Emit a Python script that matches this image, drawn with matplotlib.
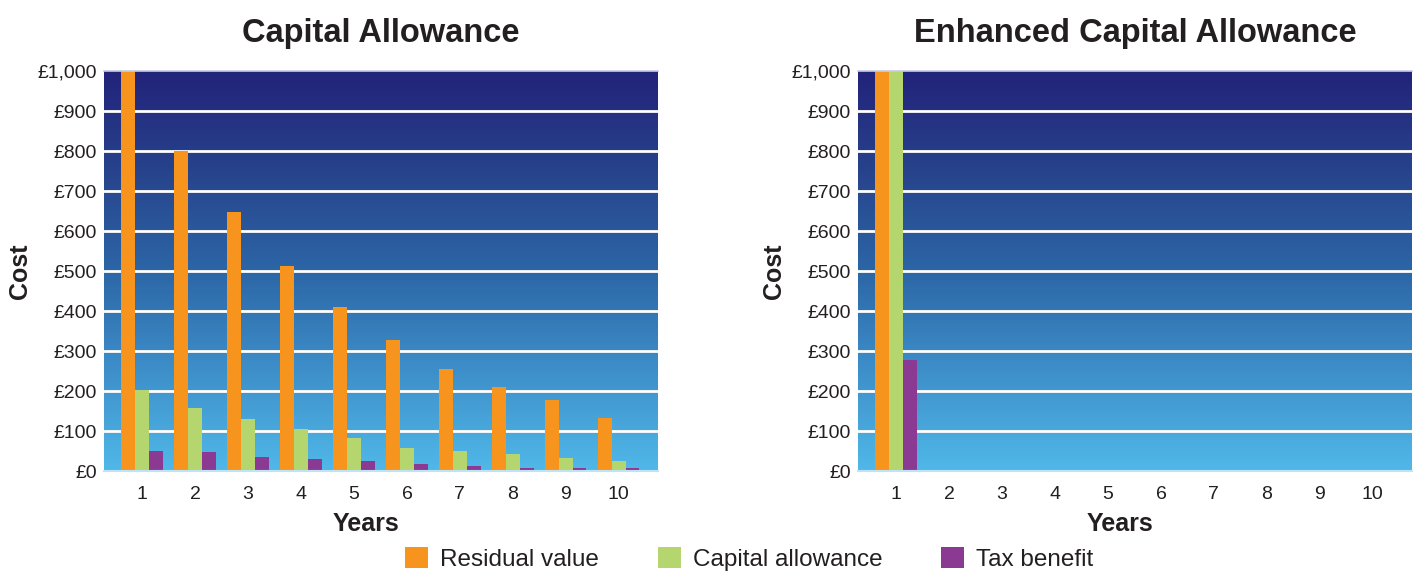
import matplotlib
matplotlib.use("Agg")
import matplotlib.pyplot as plt
import numpy as np
from matplotlib.colors import LinearSegmentedColormap
from matplotlib.patches import Patch
from matplotlib.ticker import FuncFormatter

plt.rcParams['font.family'] = ['Liberation Sans', 'DejaVu Sans']

years = [1, 2, 3, 4, 5, 6, 7, 8, 9, 10]
series_names = ["Residual value", "Capital allowance", "Tax benefit"]

ca_residual = [1000, 800, 647, 513, 411, 327, 254, 209, 177, 133]
ca_allowance = [202, 157, 129, 104, 82, 57, 49, 42, 32, 24]
ca_tax = [49, 47, 34, 29, 24, 17, 12, 7, 7, 7]

eca_residual = [1000, 0, 0, 0, 0, 0, 0, 0, 0, 0]
eca_allowance = [1000, 0, 0, 0, 0, 0, 0, 0, 0, 0]
eca_tax = [278, 0, 0, 0, 0, 0, 0, 0, 0, 0]

titles = ["Capital Allowance", "Enhanced Capital Allowance"]
yticks = [0, 100, 200, 300, 400, 500, 600, 700, 800, 900, 1000]

colors = ["#F7941D", "#B5D56E", "#8B3A94"]
bg_cmap = LinearSegmentedColormap.from_list(
    "bg", [(0.0, "#50B8E8"), (0.3, "#3A87C3"), (0.5, "#2C66A6"),
           (0.75, "#27438C"), (1.0, "#22237A")])

fig = plt.figure(figsize=(14.19, 5.72), dpi=100)
axes = [fig.add_axes([104/1419, 101/572, 554/1419, 400/572]),
        fig.add_axes([858/1419, 101/572, 554/1419, 400/572])]

data = [(ca_residual, ca_allowance, ca_tax), (eca_residual, eca_allowance, eca_tax)]
x = np.array(years, dtype=float)
w = 0.26
offsets = [-w, 0, w]
text_col = "#231f20"

for ax, title, ds in zip(axes, titles, data):
    grad = np.linspace(0, 1, 256).reshape(-1, 1)
    ax.imshow(grad, aspect="auto", cmap=bg_cmap, origin="lower",
              extent=[0, 1, 0, 1], transform=ax.transAxes, zorder=0)
    for yv in yticks[1:-1]:
        ax.axhline(yv, color="white", lw=2, zorder=1)
    for vals, off, c in zip(ds, offsets, colors):
        ax.bar(x + off, vals, width=w, color=c, zorder=2, linewidth=0)
    ax.set_xlim(0.28, 10.74)
    ax.set_ylim(0, 1000)
    ax.set_xticks(years)
    ax.set_yticks(yticks)
    ax.yaxis.set_major_formatter(FuncFormatter(lambda v, p: "£{:,.0f}".format(v)))
    ax.tick_params(axis="both", length=0, labelsize=14, colors=text_col)
    ax.tick_params(axis="x", pad=11)
    ax.tick_params(axis="y", pad=5)
    for s in ["left", "right"]:
        ax.spines[s].set_visible(False)
    ax.spines["top"].set_color("#c8cbe8")
    ax.spines["top"].set_linewidth(1.2)
    ax.spines["bottom"].set_color("#bfe3f5")
    ax.spines["bottom"].set_linewidth(1.5)
    ax.set_title(title, fontsize=23.5, fontweight="bold", color=text_col, pad=21)
    ax.set_xlabel("Years", fontsize=18, fontweight="bold", color=text_col)
    ax.xaxis.set_label_coords(0.473, -0.103)
    ax.set_ylabel("Cost", fontsize=18, fontweight="bold", color=text_col)
    ax.yaxis.set_label_coords(-0.13, 0.5)

handles = [Patch(facecolor=c, edgecolor="none", label=n) for c, n in zip(colors, series_names)]
fig.legend(handles=handles, loc="lower center", bbox_to_anchor=(0.528, -0.037), ncol=3,
           frameon=False, fontsize=17.5, handlelength=0.95, handleheight=0.95,
           columnspacing=2.4, handletextpad=0.5, labelcolor=text_col)

fig.savefig("out.png", dpi=100)
